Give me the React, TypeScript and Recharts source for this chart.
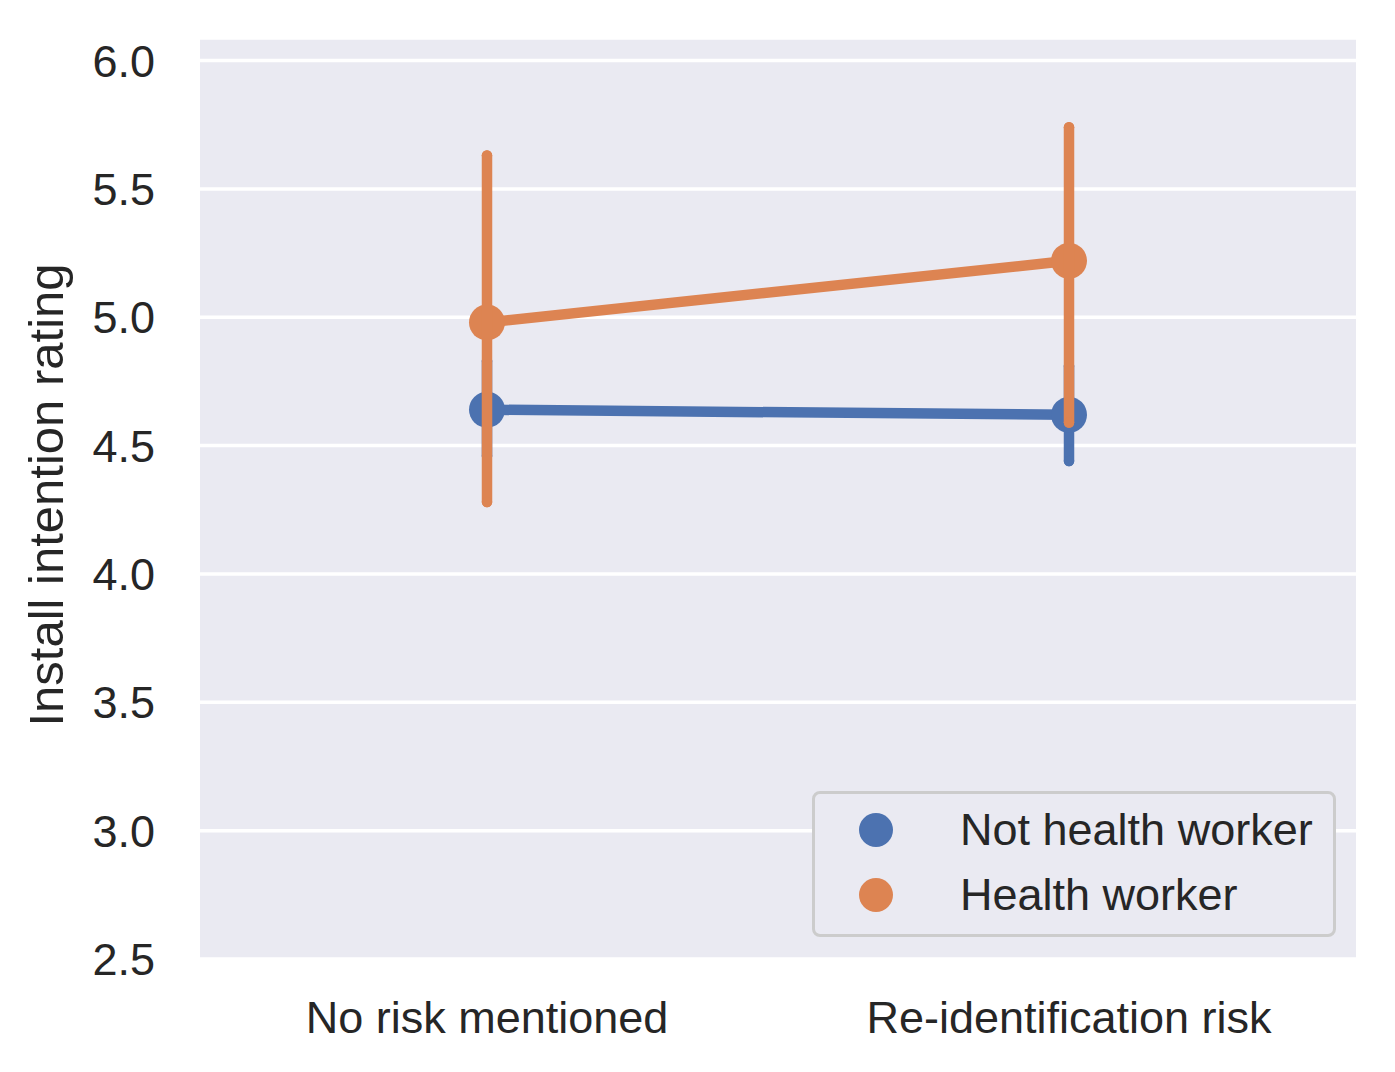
import {
    CartesianGrid,
    ComposedChart,
    ErrorBar,
    Legend,
    Line,
    XAxis,
    YAxis,
} from "recharts"

const conditions = ["No risk mentioned", "Re-identification risk"]

const notHealthMean = [4.64, 4.62]
const notHealthLow = [4.46, 4.44]
const notHealthHigh = [4.83, 4.81]

const healthMean = [4.98, 5.22]
const healthLow = [4.28, 4.59]
const healthHigh = [5.63, 5.74]

const yTicks = [2.5, 3.0, 3.5, 4.0, 4.5, 5.0, 5.5, 6.0]

const BLUE = "#4C72B0"
const ORANGE = "#DD8452"
const TEXT = "#262626"
const FONT = "'Liberation Sans', Arial, sans-serif"

const legendItems = [
    { label: "Not health worker", color: BLUE },
    { label: "Health worker", color: ORANGE },
]

const chartData = conditions.map((condition, i) => ({
    condition,
    notHealth: notHealthMean[i],
    notHealthErr: [notHealthMean[i] - notHealthLow[i], notHealthHigh[i] - notHealthMean[i]],
    health: healthMean[i],
    healthErr: [healthMean[i] - healthLow[i], healthHigh[i] - healthMean[i]],
}))

function LegendBox() {
    return (
        <div
            style={{
                boxSizing: "border-box",
                width: 524,
                height: 146,
                border: "3px solid #CCCCCC",
                borderRadius: 8,
                background: "#EAEAF2",
                position: "relative",
                fontFamily: FONT,
            }}
        >
            {legendItems.map((item, i) => (
                <div
                    key={item.label}
                    style={{
                        position: "absolute",
                        left: 0,
                        top: 39 + i * 65 - 3 - 26,
                        height: 52,
                        display: "flex",
                        alignItems: "center",
                    }}
                >
                    <svg width={145} height={52} style={{ display: "block" }}>
                        <circle cx={61} cy={26} r={17} fill={item.color} />
                    </svg>
                    <span style={{ fontSize: 45, color: TEXT, whiteSpace: "nowrap", lineHeight: "52px" }}>
                        {item.label}
                    </span>
                </div>
            ))}
        </div>
    )
}

export default function App() {
    return (
        <div style={{ position: "absolute", left: 0, top: 0, width: 1395, height: 1072, background: "#fff" }}>
            <ComposedChart
                width={1395}
                height={1072}
                data={chartData}
                margin={{ top: 38, right: 39, left: 0, bottom: 0 }}
                style={{ fontFamily: FONT }}
            >
                <CartesianGrid
                    vertical={false}
                    stroke="#FFFFFF"
                    strokeWidth={3.5}
                    fill="#EAEAF2"
                    fillOpacity={1}
                />
                <XAxis
                    dataKey="condition"
                    type="category"
                    padding={{ left: 287, right: 287 }}
                    axisLine={false}
                    tickLine={false}
                    tickSize={0}
                    tickMargin={42}
                    height={113}
                    tick={{ fontSize: 45, fill: TEXT }}
                />
                <YAxis
                    type="number"
                    domain={[2.5, 6.088]}
                    ticks={yTicks}
                    allowDataOverflow
                    axisLine={false}
                    tickLine={false}
                    tickSize={0}
                    tickMargin={45}
                    width={200}
                    tick={{ fontSize: 45, fill: TEXT }}
                    tickFormatter={(v: number) => v.toFixed(1)}
                    label={{
                        content: () => (
                            <text
                                x={63}
                                y={495}
                                transform="rotate(-90 63 495)"
                                textAnchor="middle"
                                fontSize={49}
                                fill={TEXT}
                                fontFamily={FONT}
                            >
                                Install intention rating
                            </text>
                        ),
                    }}
                />
                <Legend
                    layout="horizontal"
                    align="center"
                    verticalAlign="middle"
                    content={<LegendBox />}
                    wrapperStyle={{ position: "absolute", left: 812, top: 791, width: 524, height: 146 }}
                />
                <Line
                    dataKey="notHealth"
                    name="Not health worker"
                    stroke={BLUE}
                    strokeWidth={10.5}
                    dot={{ r: 18, fill: BLUE, stroke: "none" }}
                    activeDot={false}
                    isAnimationActive={false}
                >
                    <ErrorBar
                        dataKey="notHealthErr"
                        width={0}
                        stroke={BLUE}
                        strokeWidth={10.5}
                        strokeLinecap="round"
                        isAnimationActive={false}
                    />
                </Line>
                <Line
                    dataKey="health"
                    name="Health worker"
                    stroke={ORANGE}
                    strokeWidth={10.5}
                    dot={{ r: 18, fill: ORANGE, stroke: "none" }}
                    activeDot={false}
                    isAnimationActive={false}
                />
                {/* orange CIs drawn last so they sit over the blue markers */}
                <Line
                    dataKey="health"
                    legendType="none"
                    stroke="none"
                    dot={false}
                    activeDot={false}
                    isAnimationActive={false}
                >
                    <ErrorBar
                        dataKey="healthErr"
                        width={0}
                        stroke={ORANGE}
                        strokeWidth={10.5}
                        strokeLinecap="round"
                        zIndex={700}
                        isAnimationActive={false}
                    />
                </Line>
            </ComposedChart>
        </div>
    )
}
